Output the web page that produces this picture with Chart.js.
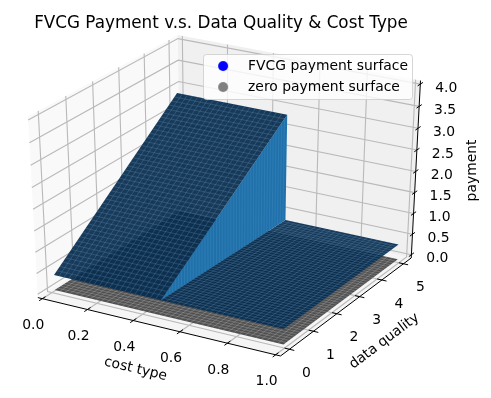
<!DOCTYPE html>
<html lang="en">
<head>
    <meta charset="UTF-8">
    <title>FVCG Payment</title>
    <script src="https://cdn.jsdelivr.net/npm/chart.js@4/dist/chart.umd.js"></script>
    <style>
        html, body { margin: 0; padding: 0; background: #fff; }
        #surface { display: block; width: 491px; height: 398px; }
    </style>
</head>
<body>
    <!-- area to load chartjs chart -->
    <canvas id="surface" width="491" height="398"></canvas>
<script>
    // values
    const xTicks = [0, 0.2, 0.4, 0.6, 0.8, 1];
    const yTicks = [0, 1, 2, 3, 4, 5];
    const zTicks = [0, 0.5, 1, 1.5, 2, 2.5, 3, 3.5, 4];
    const xBox = [-0.02, 1.02];
    const yBox = [-0.365, 5.365];
    const zBox = [-0.08, 4.08];

    // surface corners, each pair is [at quality 0, at quality 5]
    const costStart = [0.013, 0.013];
    const costCliff = [0.48, 0.5];
    const costEnd = [0.995, 0.995];
    const highPayment = [0.36, 2.88];
    const lowPayment = [0.36, 0.36];
    const zeroPayment = [0, 0];

    const legendLabels = ['FVCG payment surface', 'zero payment surface'];
    const legendColors = ['#0000ff', '#808080'];

    const font = 'DejaVu Sans';
    const meshRows = 44;

    // same camera as a default mplot3d view (elev 30, azim -60, dist 10)
    const U = [0.866025, 0.5, 0];
    const V = [-0.25, 0.433013, 0.866025];
    const N = [0.433013, -0.75, 0.5];
    const dot = (a, b) => a[0] * b[0] + a[1] * b[1] + a[2] * b[2];

    function project(x, y, z) {
        const c = [
            (x - xBox[0]) / (xBox[1] - xBox[0]) - 0.5,
            (y - yBox[0]) / (yBox[1] - yBox[0]) - 0.5,
            (z - zBox[0]) / (zBox[1] - zBox[0]) - 0.5
        ];
        const w = 10 - dot(c, N);
        return { x: dot(c, U) / w, y: dot(c, V) / w };
    }

    const datasets = [];
    function addLine(pts, color, width) {
        datasets.push({
            data: pts.map(p => project(p[0], p[1], p[2])),
            showLine: true, pointRadius: 0, fill: false, clip: false,
            borderColor: color, borderWidth: width, tension: 0
        });
    }
    function addShape(pts, color) {
        datasets.push({
            data: pts.map(p => project(p[0], p[1], p[2])),
            showLine: true, pointRadius: 0, fill: 'shape', clip: false,
            backgroundColor: color, borderWidth: 0, tension: 0
        });
    }

    const [x0, x1] = xBox, [y0, y1] = yBox, [z0, z1] = zBox;

    // panes
    addShape([[x0, y0, z0], [x0, y1, z0], [x0, y1, z1], [x0, y0, z1]], '#f9f9f9');
    addShape([[x0, y1, z0], [x1, y1, z0], [x1, y1, z1], [x0, y1, z1]], '#f0f0f0');
    addShape([[x0, y0, z0], [x1, y0, z0], [x1, y1, z0], [x0, y1, z0]], '#f5f5f5');

    // grid
    const gridColor = '#b9b9b9';
    xTicks.forEach(t => addLine([[t, y0, z0], [t, y1, z0], [t, y1, z1]], gridColor, 1.1));
    yTicks.forEach(t => addLine([[x1, t, z0], [x0, t, z0], [x0, t, z1]], gridColor, 1.1));
    zTicks.forEach(t => addLine([[x0, y0, t], [x0, y1, t], [x1, y1, t]], gridColor, 1.1));

    // axis lines and ticks
    addLine([[x0, y0, z0], [x1, y0, z0]], '#000', 1);
    addLine([[x1, y0, z0], [x1, y1, z0]], '#000', 1);
    addLine([[x1, y1, z0], [x1, y1, z1]], '#000', 1);
    xTicks.forEach(t => addLine([[t, y0 - 0.12, z0], [t, y0 + 0.12, z0]], '#000', 1));
    yTicks.forEach(t => addLine([[x1 - 0.02, t, z0], [x1 + 0.02, t, z0]], '#000', 1));
    zTicks.forEach(t => addLine([[x1, y1 - 0.12, t], [x1, y1 + 0.12, t]], '#000', 1));

    // a point along a [quality 0, quality 5] pair
    const along = (pair, k) => pair[0] + (pair[1] - pair[0]) * k;

    // one surface patch plus its mesh seams
    function addPatch(xa, xb, zq, fillColor, seamColor) {
        const at = (x, k) => [x, 5 * k, along(zq, k)];
        addShape([at(xa[0], 0), at(xb[0], 0), at(xb[1], 1), at(xa[1], 1)], fillColor);
        const nx = Math.round((along(xb, 1) - along(xa, 1)) * meshRows);
        for (let i = 1; i < nx; i++) {
            const f = i / nx;
            addLine([at(xa[0] + (xb[0] - xa[0]) * f, 0), at(xa[1] + (xb[1] - xa[1]) * f, 1)], seamColor, 0.7);
        }
        for (let j = 1; j < meshRows; j++) {
            const k = j / meshRows;
            addLine([at(along(xa, k), k), at(along(xb, k), k)], seamColor, 0.7);
        }
    }

    addPatch(costStart, costEnd, zeroPayment, '#505050', 'rgba(200,200,200,0.4)');
    addPatch(costCliff, costEnd, lowPayment, 'rgba(6,44,80,0.93)', 'rgba(150,190,220,0.28)');
    // cliff between the two blue surfaces
    addShape([[costCliff[0], 0, lowPayment[0]], [costCliff[1], 5, lowPayment[1]], [costCliff[1], 5, highPayment[1]]], '#2071ab');
    for (let j = 1; j < meshRows; j++) {
        const k = j / meshRows;
        addLine([[along(costCliff, k), 5 * k, along(lowPayment, k)], [along(costCliff, k), 5 * k, along(highPayment, k)]], 'rgba(130,190,230,0.22)', 0.6);
    }
    addPatch(costStart, costCliff, highPayment, 'rgba(6,44,80,0.93)', 'rgba(150,190,220,0.28)');

    // first dataset is drawn last by default, so reverse the order
    datasets.forEach((d, i) => { d.order = -i; });

    function dotImage(color) {
        const c = document.createElement('canvas');
        c.width = c.height = 12;
        const g = c.getContext('2d');
        g.fillStyle = color;
        g.beginPath();
        g.arc(6, 6, 5, 0, Math.PI * 2);
        g.fill();
        return c;
    }

    // tick labels and axis titles sit on the projected ticks
    const labelPlugin = {
        id: 'axisText',
        afterInit(chart) {
            // legend goes above the surfaces, with its own frame
            const lg = chart.legend;
            lg._layers = () => [{ z: 10, draw() {
                const c = chart.ctx;
                c.save();
                c.beginPath();
                c.roundRect(203.5, 54.5, 209, 45, 3);
                c.fillStyle = 'rgba(255,255,255,0.8)';
                c.strokeStyle = 'rgba(204,204,204,0.8)';
                c.fill();
                c.stroke();
                c.restore();
                lg.draw();
            } }];
        },
        afterLayout(chart) {
            const lg = chart.legend;
            lg.left = 198; lg.top = 52; lg.right = 414; lg.bottom = 130;
            lg.width = 216; lg.height = 78;
            lg.adjustHitBoxes();
            // title is centred over the axes, not over the page
            chart.titleBlock.left = 0;
            chart.titleBlock.right = 442;
        },
        afterDatasetsDraw(chart) {
            const c = chart.ctx, sx = chart.scales.x, sy = chart.scales.y;
            const px = p => [sx.getPixelForValue(p.x), sy.getPixelForValue(p.y)];
            c.save();
            c.fillStyle = '#000';
            c.font = '13.9px "' + font + '"';
            c.textAlign = 'center';
            c.textBaseline = 'middle';
            xTicks.forEach(t => {
                const [a, b] = px(project(t, y0, z0));
                c.fillText(t.toFixed(1), a - 9, b + 27);
            });
            yTicks.forEach(t => {
                const [a, b] = px(project(x1, t, z0));
                c.fillText(String(t), a + 17, b + 24);
            });
            zTicks.forEach(t => {
                const [a, b] = px(project(x1, y1, t));
                c.fillText(t.toFixed(1), a + 26, b + 4);
            });
            const rotated = (text, p, deg) => {
                c.save();
                c.translate(p[0], p[1]);
                c.rotate(deg * Math.PI / 180);
                c.fillText(text, 0, 0);
                c.restore();
            };
            rotated('cost type', px(project(0.5, y0, z0)).map((v, i) => v + [-21, 43][i]), 13.5);
            rotated('data quality', px(project(x1, 2.5, z0)).map((v, i) => v + [36, 36][i]), -37);
            rotated('payment', px(project(x1, y1, 2)).map((v, i) => v + [57, -1][i]), -90);
            c.restore();
        }
    };

    const myChart = new Chart(document.getElementById('surface'), {
        type: 'scatter',
        data: { datasets },
        plugins: [labelPlugin],
        options: {
            animation: false,
            responsive: false,
            layout: { padding: 0 },
            scales: {
                x: { type: 'linear', display: false, min: -0.0812, max: 0.0941 },
                y: { type: 'linear', display: false, min: -0.1005, max: 0.07536 }
            },
            plugins: {
                tooltip: { enabled: false },
                title: {
                    display: true,
                    text: 'FVCG Payment v.s. Data Quality & Cost Type',
                    color: '#000',
                    font: { family: font, size: 16.8, weight: 'normal' },
                    padding: { top: 14, bottom: 0 }
                },
                legend: {
                    position: 'chartArea',
                    align: 'start',
                    labels: {
                        usePointStyle: true,
                        pointStyleWidth: 36,
                        padding: 7.1,
                        color: '#000',
                        font: { family: font, size: 13.9 },
                        generateLabels: () => legendLabels.map((text, i) => ({
                            text, fontColor: '#000', pointStyle: dotImage(legendColors[i]),
                            lineWidth: 0, datasetIndex: i
                        }))
                    }
                }
            }
        }
    });
</script>
</body>
</html>
